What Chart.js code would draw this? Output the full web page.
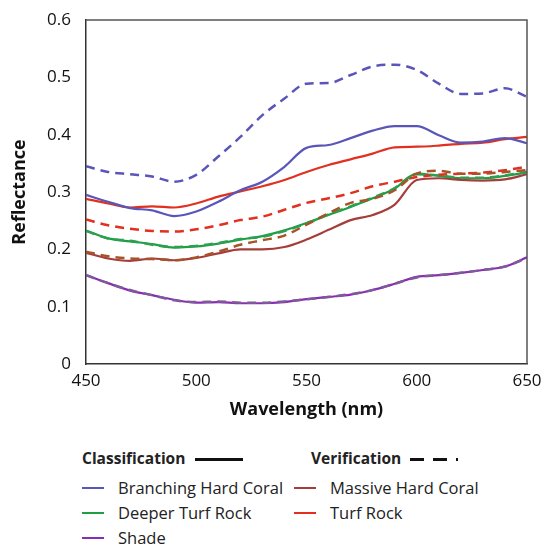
<!DOCTYPE html>
<html>
<head>
<meta charset="utf-8">
<script src="https://cdn.jsdelivr.net/npm/chart.js@4.4.1/dist/chart.umd.min.js"></script>
<style>
  body { margin: 0; background: #fff; font-family: "Open Sans", sans-serif; }
  #wrap { position: relative; width: 544px; height: 547px; }
  #chart-box { position: absolute; left: 0; top: 0; width: 544px; height: 430px; }
  .legend { position: absolute; left: 0; top: 0; font-size: 16.5px; line-height: 24px; color: #222; white-space: nowrap; }
  .legend .hd { position: absolute; font-weight: bold; font-size: 15.5px; line-height: 20px; }
  .legend .sw { position: absolute; height: 0; border-top: 2.5px solid; width: 22px; }
  .legend .lb { position: absolute; }
</style>
</head>
<body>
<div id="wrap">
  <div id="chart-box"><canvas id="spectra" width="544" height="430"></canvas></div>
  <div class="legend" id="legend"></div>
</div>
<script>
// Wavelengths (nm)
const wavelengths = [450, 460, 470, 480, 490, 500, 510, 520, 530, 540, 550, 560, 570, 580, 590, 600, 610, 620, 630, 640, 650];

// Classification spectra (solid)
const branchingCls = [0.295, 0.283, 0.272, 0.268, 0.258, 0.266, 0.283, 0.303, 0.318, 0.344, 0.377, 0.382, 0.394, 0.407, 0.415, 0.415, 0.399, 0.386, 0.388, 0.394, 0.385];
const massiveCls   = [0.194, 0.184, 0.180, 0.184, 0.181, 0.185, 0.193, 0.200, 0.200, 0.204, 0.217, 0.234, 0.251, 0.260, 0.278, 0.321, 0.324, 0.321, 0.320, 0.322, 0.331];
const deeperCls    = [0.233, 0.219, 0.214, 0.209, 0.203, 0.205, 0.210, 0.217, 0.223, 0.233, 0.246, 0.260, 0.274, 0.289, 0.306, 0.332, 0.328, 0.324, 0.324, 0.328, 0.334];
const turfCls      = [0.288, 0.280, 0.273, 0.275, 0.273, 0.280, 0.292, 0.301, 0.310, 0.321, 0.335, 0.347, 0.357, 0.367, 0.378, 0.379, 0.381, 0.384, 0.386, 0.392, 0.396];
const shadeCls     = [0.155, 0.141, 0.128, 0.120, 0.112, 0.107, 0.108, 0.106, 0.106, 0.108, 0.113, 0.117, 0.121, 0.129, 0.140, 0.152, 0.155, 0.159, 0.164, 0.170, 0.186];

// Verification spectra (dashed)
const branchingVer = [0.345, 0.335, 0.331, 0.327, 0.318, 0.330, 0.362, 0.396, 0.434, 0.463, 0.489, 0.490, 0.504, 0.519, 0.522, 0.513, 0.489, 0.471, 0.472, 0.481, 0.466];
const massiveVer   = [0.196, 0.188, 0.184, 0.183, 0.181, 0.186, 0.196, 0.208, 0.216, 0.224, 0.243, 0.263, 0.281, 0.288, 0.303, 0.332, 0.337, 0.332, 0.332, 0.335, 0.338];
const deeperVer    = [0.232, 0.219, 0.215, 0.208, 0.204, 0.206, 0.211, 0.218, 0.222, 0.232, 0.245, 0.261, 0.275, 0.290, 0.307, 0.331, 0.329, 0.325, 0.325, 0.329, 0.335];
const turfVer      = [0.252, 0.242, 0.236, 0.232, 0.231, 0.235, 0.242, 0.251, 0.257, 0.269, 0.281, 0.289, 0.298, 0.310, 0.318, 0.326, 0.330, 0.332, 0.334, 0.338, 0.344];
const shadeVer     = [0.155, 0.141, 0.129, 0.120, 0.111, 0.108, 0.109, 0.107, 0.107, 0.109, 0.113, 0.117, 0.122, 0.129, 0.140, 0.151, 0.155, 0.159, 0.164, 0.170, 0.185];

const classNames = ['Branching Hard Coral', 'Massive Hard Coral', 'Deeper Turf Rock', 'Turf Rock', 'Shade'];
const clsColors = ['#5a55b8', '#a53e3a', '#1f9e46', '#e1301f', '#8a2cb5'];
const verColors = ['#5a55b8', '#a8522a', '#2aa050', '#e1301f', '#7d5b96'];

const clsSets = [branchingCls, massiveCls, deeperCls, turfCls, shadeCls];
const verSets = [branchingVer, massiveVer, deeperVer, turfVer, shadeVer];

const toPts = arr => arr.map((v, i) => ({ x: wavelengths[i], y: v }));

const datasets = [];
verSets.forEach((arr, i) => {
    datasets.push({
        label: classNames[i] + ' (verification)',
        data: toPts(arr),
        borderColor: verColors[i],
        borderWidth: 2.5,
        borderDash: [9, 6],
        pointRadius: 0,
        cubicInterpolationMode: 'monotone',
        fill: false
    });
});
clsSets.forEach((arr, i) => {
    datasets.push({
        label: classNames[i],
        data: toPts(arr),
        borderColor: clsColors[i],
        borderWidth: 2.2,
        pointRadius: 0,
        cubicInterpolationMode: 'monotone',
        fill: false
    });
});

// box round the plot area
const frame = {
    id: 'frame',
    afterDraw(chart) {
        const { ctx, chartArea: a } = chart;
        ctx.save();
        ctx.strokeStyle = '#555';
        ctx.lineWidth = 1.5;
        ctx.beginPath();
        ctx.moveTo(a.left, a.top);
        ctx.lineTo(a.right, a.top);
        ctx.lineTo(a.right, a.bottom);
        ctx.stroke();
        ctx.restore();
    }
};

new Chart(document.getElementById('spectra'), {
    type: 'line',
    data: { datasets },
    options: {
        responsive: false,
        animation: false,
        maintainAspectRatio: false,
        layout: { padding: { top: 20, right: 17, left: 0, bottom: 0 } },
        plugins: { legend: { display: false }, tooltip: { enabled: false } },
        scales: {
            x: {
                type: 'linear',
                min: 450, max: 650,
                afterFit: s => { s.height = 66; },
                ticks: { stepSize: 50, color: '#111', font: { family: 'Open Sans', size: 17 }, padding: 1 },
                grid: { display: false, drawTicks: true, tickLength: 6, tickColor: '#333' },
                border: { color: '#333', width: 1.5 },
                title: { display: true, text: 'Wavelength (nm)', color: '#111', font: { family: 'Open Sans', size: 18, weight: 'bold' }, padding: { top: 4, bottom: 9 } }
            },
            y: {
                min: 0, max: 0.6,
                afterFit: s => { s.width = 86; },
                ticks: { stepSize: 0.1, color: '#111', font: { family: 'Open Sans', size: 17 }, padding: 9,
                    callback: v => Number(v.toFixed(1)).toString() },
                grid: { display: false, drawTicks: true, tickLength: 6, tickColor: '#333' },
                border: { color: '#333', width: 1.5 },
                title: { display: true, text: 'Reflectance', color: '#111', font: { family: 'Open Sans', size: 18, weight: 'bold' }, padding: { top: 9, bottom: 4 } }
            }
        }
    },
    plugins: [frame]
});

// Legend below the chart
const legend = document.getElementById('legend');
const add = (cls, x, y, html, style) => {
    const el = document.createElement('div');
    el.className = cls;
    el.style.left = x + 'px';
    el.style.top = y + 'px';
    if (style) Object.assign(el.style, style);
    el.innerHTML = html || '';
    legend.appendChild(el);
};
add('hd', 82, 448, 'Classification');
add('sw', 195, 458, '', { width: '48px', borderTop: '3px solid #111' });
add('hd', 311, 448, 'Verification');
add('sw', 410, 458, '', { width: '48px', height: '3px', border: 'none',
    background: 'repeating-linear-gradient(to right, #111 0 14px, transparent 14px 23px)' });

const legendRows = [488, 488, 513, 513, 538];
const legendCols = [82, 294, 82, 294, 82];
classNames.forEach((name, i) => {
    const x = legendCols[i], cy = legendRows[i];
    add('sw', x, cy - 1, '', { borderTopColor: clsColors[i] });
    add('lb', x + 36, cy - 12, name);
});
</script>
</body>
</html>
